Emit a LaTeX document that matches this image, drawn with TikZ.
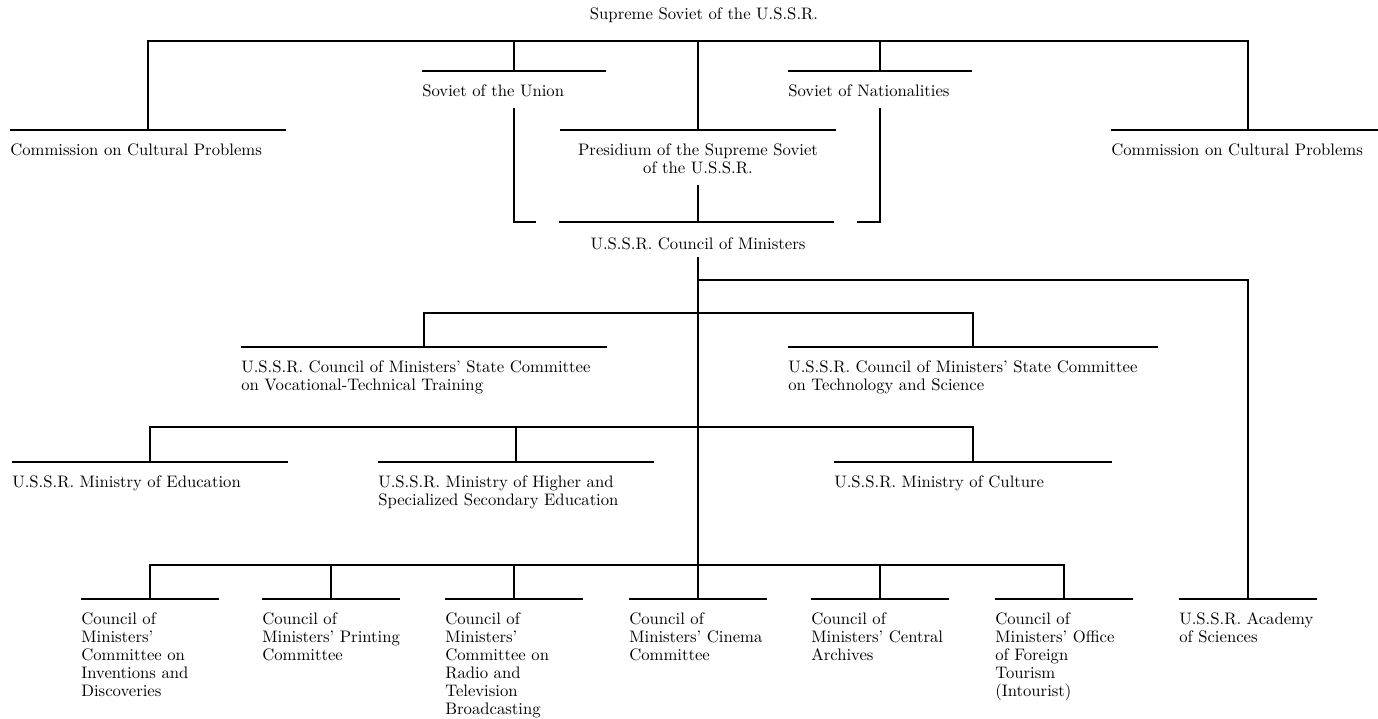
\documentclass[tikz,border=0pt]{standalone}
\usetikzlibrary{positioning}

\tikzset{
  org/.style={line width=1.1pt},
  lbl/.style={inner sep=0pt, anchor=north west, align=left,
    font=\fontsize{10}{10.8}\selectfont},
}

\begin{document}
\begin{tikzpicture}[x=0.6pt,y=-0.6pt]
\useasboundingbox (0,0) rectangle (1378,719);

% head
\node[lbl, anchor=center] (sup) at (704,15) {Supreme Soviet of the U.S.S.R.};
\node[lbl, anchor=center] (cou) at (698,244) {U.S.S.R. Council of Ministers};

% units: name/centre/rule/half width/text
\foreach \u/\x/\y/\w/\txt in {
  comA/148/130/138/{Commission on Cultural Problems},
  sou/514/71/92/{Soviet of the Union},
  nat/880/71/92/{Soviet of Nationalities},
  comB/1248/130/137/{Commission on Cultural Problems},
  voc/424/347/183/{U.S.S.R. Council of Ministers' State Committee\\on Vocational-Technical Training},
  tec/973/347/185/{U.S.S.R. Council of Ministers' State Committee\\on Technology and Science},
  edu/150/462/138/{U.S.S.R. Ministry of Education},
  hig/516/462/138/{U.S.S.R. Ministry of Higher and\\Specialized Secondary Education},
  cul/973/462/139/{U.S.S.R. Ministry of Culture},
  inv/150/599/69/{Council of\\Ministers'\\Committee on\\Inventions and\\Discoveries},
  prt/331/599/69/{Council of\\Ministers' Printing\\Committee},
  rad/514/599/69/{Council of\\Ministers'\\Committee on\\Radio and\\Television\\Broadcasting},
  cin/698/599/69/{Council of\\Ministers' Cinema\\Committee},
  arc/880/599/69/{Council of\\Ministers' Central\\Archives},
  tou/1064/599/69/{Council of\\Ministers' Office\\of Foreign\\Tourism\\(Intourist)},
  aca/1248/599/69/{U.S.S.R. Academy\\of Sciences}}
{
  \coordinate (\u) at (\x,\y);
  \draw[org] (\x-\w,\y) -- (\x+\w,\y);
  \node[lbl] (\u-t) at (\x-\w,\y+13) {\txt};
}

% presidium
\coordinate (pre) at (698,130);
\draw[org] (560,130) -- (836,130);
\node[lbl, anchor=north, align=center] (pre-t) at (698,143)
  {Presidium of the Supreme Soviet\\of the U.S.S.R.};

% top bus
\coordinate (bus1) at (698,41);
\draw[org] (comA) |- (bus1) -| (comB);
\foreach \u in {sou,pre,nat}
  \draw[org] (\u) -- (\u |- bus1);

% bracket under the two chambers
\coordinate (brk) at (698,222);
\draw[org] (sou |- 0,108) |- ([xshift=13pt]sou |- brk);
\draw[org] (nat |- 0,108) |- ([xshift=-14pt]nat |- brk);
\draw[org] (559,222) -- (834,222);
\draw[org] (pre |- 0,185) -- (brk);

% council of ministers down to the committees
\draw[org] ([yshift=-4pt]cou.south) -- (cin);
\coordinate (acabr) at (698,280);
\draw[org] (acabr) -| (aca);

\coordinate (bus2) at (698,313);
\draw[org] (voc) |- (bus2) -| (tec);

\coordinate (bus3) at (698,427);
\draw[org] (edu) |- (bus3) -| (cul);
\draw[org] (hig) -- (hig |- bus3);

\coordinate (bus4) at (698,565);
\draw[org] (inv) |- (bus4) -| (tou);
\foreach \u in {prt,rad,arc}
  \draw[org] (\u) -- (\u |- bus4);

\end{tikzpicture}
\end{document}
